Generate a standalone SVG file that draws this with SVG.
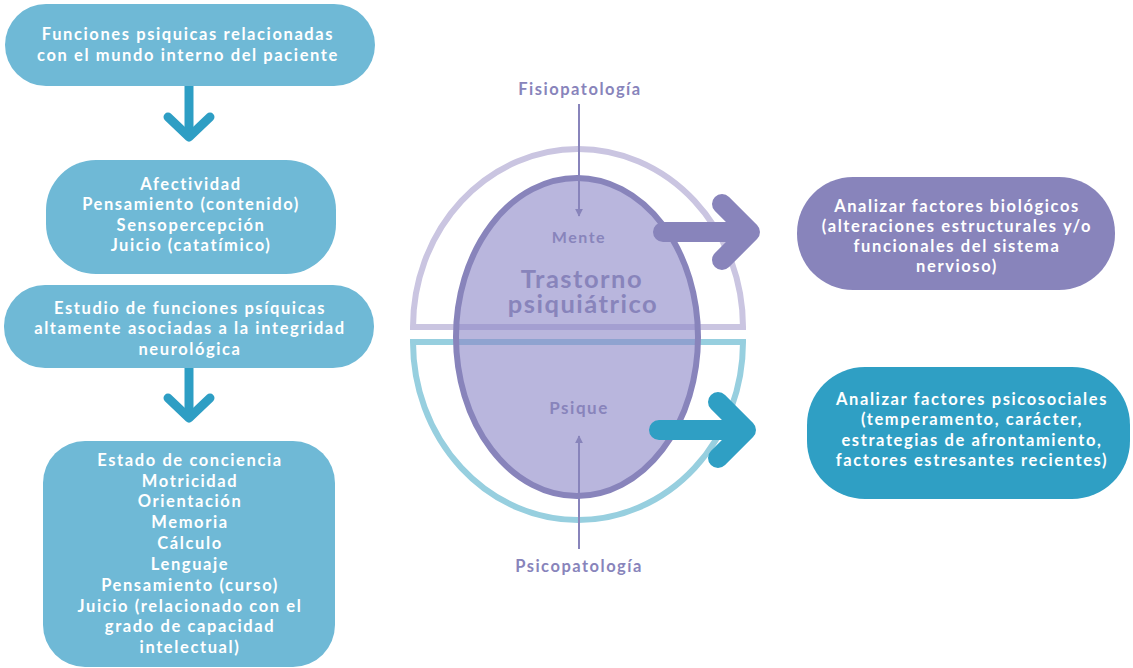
<svg xmlns="http://www.w3.org/2000/svg" width="1133" height="668" viewBox="0 0 1133 668">
<style>
.t{font-family:Lato,"Open Sans","Liberation Sans",sans-serif;font-weight:700;fill:#ffffff;text-anchor:middle;font-size:16.5px;letter-spacing:1.6px}
.p{font-family:Lato,"Open Sans","Liberation Sans",sans-serif;font-weight:700;text-anchor:middle;fill:#8884bb;letter-spacing:1.5px}
.lb{fill:#6fb9d6}
.chev{fill:none;stroke-linecap:round;stroke-linejoin:round}
</style>
<defs>
<marker id="ah" viewBox="0 0 10 10" refX="9" refY="5" markerWidth="4" markerHeight="4" orient="auto-start-reverse" markerUnits="strokeWidth">
<path d="M0,0 L10,5 L0,10 z" fill="#8884bb"/>
</marker>
</defs>
<rect width="1133" height="668" fill="#ffffff"/>

<g id="center-shape">
<path d="M413,327 A165,178 0 0 1 743,327 Z" fill="none" stroke="#cac5e1" stroke-width="6"/>
<path d="M413,342 A165,178 0 0 0 743,342 Z" fill="none" stroke="#97cfdf" stroke-width="6"/>
<ellipse cx="577" cy="337" rx="121" ry="159" fill="#8a86c6" fill-opacity="0.6" stroke="#8884bb" stroke-width="6"/>
<text class="p" x="579" y="243" font-size="16" fill="#8d89c1">Mente</text>
<text class="p" x="582" y="288" font-size="25.5" fill="#8d89c1">Trastorno</text>
<text class="p" x="583" y="313" font-size="25.5" fill="#8d89c1">psiquiátrico</text>
<text class="p" x="579" y="414" font-size="17" fill="#8d89c1" letter-spacing="1.8">Psique</text>
</g>

<g id="label-fisio"><text class="p" x="580" y="95" font-size="16.5">Fisiopatología</text></g>
<g id="label-psico"><text class="p" x="579" y="572" font-size="16.5">Psicopatología</text></g>

<g id="n1"><rect class="lb" x="5" y="4" width="370" height="82" rx="41"/>
<text class="t" x="188" y="40">Funciones psiquicas relacionadas</text>
<text class="t" x="188" y="61">con el mundo interno del paciente</text></g>

<g id="n2"><rect class="lb" x="46" y="160" width="290" height="114" rx="50"/>
<text class="t" x="191" y="190">Afectividad</text>
<text class="t" x="191" y="210">Pensamiento (contenido)</text>
<text class="t" x="191" y="231">Sensopercepción</text>
<text class="t" x="191" y="251">Juicio (catatímico)</text></g>

<g id="n3"><rect class="lb" x="4" y="285" width="370" height="83" rx="41"/>
<text class="t" x="190" y="314">Estudio de funciones psíquicas</text>
<text class="t" x="190" y="334">altamente asociadas a la integridad</text>
<text class="t" x="190" y="355">neurológica</text></g>

<g id="n4"><rect class="lb" x="43" y="441" width="292" height="226" rx="42"/>
<text class="t" x="190" y="466">Estado de conciencia</text>
<text class="t" x="190" y="487">Motricidad</text>
<text class="t" x="190" y="507">Orientación</text>
<text class="t" x="190" y="528">Memoria</text>
<text class="t" x="190" y="549">Cálculo</text>
<text class="t" x="190" y="570">Lenguaje</text>
<text class="t" x="190" y="591">Pensamiento (curso)</text>
<text class="t" x="190" y="612">Juicio (relacionado con el</text>
<text class="t" x="190" y="632">grado de capacidad</text>
<text class="t" x="190" y="653">intelectual)</text></g>

<g id="n5"><rect x="797" y="177" width="318" height="113" rx="56" fill="#8884bb"/>
<text class="t" x="957" y="212">Analizar factores biológicos</text>
<text class="t" x="957" y="232">(alteraciones estructurales y/o</text>
<text class="t" x="957" y="252">funcionales del sistema</text>
<text class="t" x="957" y="272">nervioso)</text></g>

<g id="n6"><rect x="807" y="367" width="323" height="132" rx="58" fill="#2f9fc4"/>
<text class="t" x="972" y="405">Analizar factores psicosociales</text>
<text class="t" x="972" y="425">(temperamento, carácter,</text>
<text class="t" x="972" y="446">estrategias de afrontamiento,</text>
<text class="t" x="972" y="466">factores estresantes recientes)</text></g>

<g id="connectors">
<path d="M189,86 V136" stroke="#2e9ec4" stroke-width="9"/>
<path class="chev" d="M168,117 L189,137 L210,117" stroke="#2e9ec4" stroke-width="9"/>
<path d="M189,368 V417" stroke="#2e9ec4" stroke-width="9"/>
<path class="chev" d="M168,398 L189,418 L210,398" stroke="#2e9ec4" stroke-width="9"/>
<path d="M579,104 V216" stroke="#8884bb" stroke-width="2" marker-end="url(#ah)"/>
<path d="M579,549 V436" stroke="#8884bb" stroke-width="2" marker-end="url(#ah)"/>
<path class="chev" d="M663,232 H745 M722,204 L750,232 L722,260" stroke="#8884bb" stroke-width="20"/>
<path class="chev" d="M659,430 H745 M718,402 L746,430 L718,458" stroke="#2f9fc4" stroke-width="20"/>
</g>
</svg>
